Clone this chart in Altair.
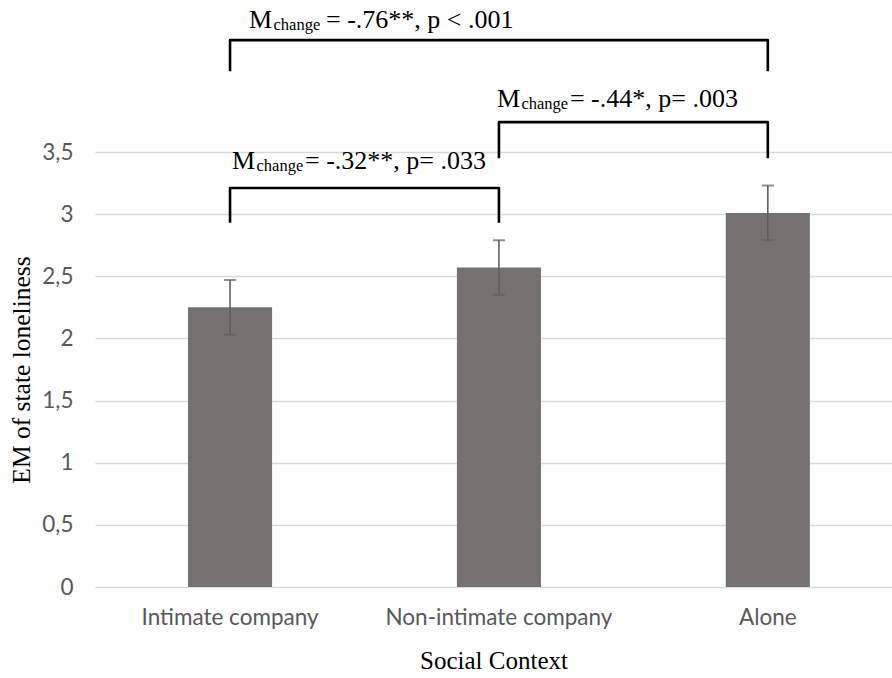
import altair as alt
import pandas as pd

# Estimated marginal means of state loneliness by social context
contexts = ["Intimate company", "Non-intimate company", "Alone"]
means = [2.25, 2.57, 3.01]
ci_low = [2.03, 2.35, 2.79]
ci_high = [2.47, 2.79, 3.23]

# Pairwise comparison brackets
pair_from = ["Intimate company", "Non-intimate company", "Intimate company"]
pair_to = ["Non-intimate company", "Alone", "Alone"]
bracket_top = [3.21, 3.74, 4.40]
bracket_leg = [2.93, 3.45, 4.15]
label_y = [3.36, 3.86, 4.50]
label_stat = ["= -.32**, p= .033", "= -.44*, p= .003", "= -.76**, p < .001"]

SERIF = "Liberation Serif"
SANS = "Lato"

bars_df = pd.DataFrame({"context": contexts, "mean": means, "lo": ci_low, "hi": ci_high})

rows = []
for i, (a, b, top, leg) in enumerate(zip(pair_from, pair_to, bracket_top, bracket_leg)):
    rows += [
        {"pair": i, "seq": 0, "context": a, "y": leg},
        {"pair": i, "seq": 1, "context": a, "y": top},
        {"pair": i, "seq": 2, "context": b, "y": top},
        {"pair": i, "seq": 3, "context": b, "y": leg},
    ]
brackets_df = pd.DataFrame(rows)

x_scale = alt.Scale(domain=contexts, paddingInner=0.6874, paddingOuter=0.3257, align=0.531)
y_scale = alt.Scale(domain=[0, 3.5], nice=False, zero=True)

x_enc = alt.X(
    "context:N",
    scale=x_scale,
    sort=contexts,
    axis=alt.Axis(
        title="Social Context",
        labelAngle=0,
        labelLimit=500,
        domain=False,
        ticks=False,
        labelFont=SANS,
        labelFontSize=22.5,
        labelColor="#595959",
        labelPadding=19,
        titleFont=SERIF,
        titleFontSize=25,
        titleFontWeight="normal",
        titleColor="#000000",
        titleBaseline="alphabetic",
        titleY=81,
    ),
)

y_enc = alt.Y(
    "mean:Q",
    scale=y_scale,
    axis=alt.Axis(
        title="EM of state loneliness",
        values=[0, 0.5, 1, 1.5, 2, 2.5, 3, 3.5],
        labelExpr="replace(toString(datum.value), '.', ',')",
        domain=False,
        ticks=False,
        grid=True,
        gridColor="#D9D9D9",
        gridWidth=1.3,
        labelFont=SANS,
        labelFontSize=22.5,
        labelColor="#595959",
        labelPadding=22,
        titleFont=SERIF,
        titleFontSize=25.5,
        titleFontWeight="normal",
        titleColor="#000000",
        titleAngle=-90,
        titleAlign="center",
        titleBaseline="alphabetic",
        titleX=-66,
        titleY=217.5,
    ),
)

bars = alt.Chart(bars_df).mark_bar(color="#767171").encode(x=x_enc, y=y_enc)

err_line = alt.Chart(bars_df).mark_rule(color="#5F5F5F", strokeWidth=1.6).encode(
    x=alt.X("context:N", scale=x_scale, sort=contexts),
    y=alt.Y("lo:Q", scale=y_scale),
    y2="hi:Q",
)
err_lo = alt.Chart(bars_df).mark_tick(color="#5F5F5F", size=12, thickness=2).encode(
    x=alt.X("context:N", scale=x_scale, sort=contexts),
    y=alt.Y("lo:Q", scale=y_scale),
)
err_hi = alt.Chart(bars_df).mark_tick(color="#5F5F5F", size=12, thickness=2).encode(
    x=alt.X("context:N", scale=x_scale, sort=contexts),
    y=alt.Y("hi:Q", scale=y_scale),
)

brackets = alt.Chart(brackets_df).mark_line(
    color="#000000", strokeWidth=2.6, strokeJoin="round", strokeCap="butt"
).encode(
    x=alt.X("context:N", scale=x_scale, sort=contexts),
    y=alt.Y("y:Q", scale=y_scale),
    detail="pair:N",
    order="seq:Q",
)

# Annotation text: "M" + subscript "change" + statistic, anchored at the bracket's left end
label_dx = [2, -2, 19]
rest_dx = [73, 73, 77]
labels = []
for i in range(len(pair_from)):
    one = pd.DataFrame({"context": [pair_from[i]], "y": [label_y[i]], "stat": [label_stat[i]]})
    base = alt.Chart(one).encode(
        x=alt.X("context:N", scale=x_scale, sort=contexts),
        y=alt.Y("y:Q", scale=y_scale),
    )
    labels.append(base.mark_text(
        text="M", font=SERIF, fontSize=26, align="left", baseline="alphabetic",
        dx=label_dx[i], color="#000000"))
    labels.append(base.mark_text(
        text="change", font=SERIF, fontSize=16.5, align="left", baseline="alphabetic",
        dx=label_dx[i] + 24.5, dy=2, color="#000000"))
    labels.append(base.mark_text(
        font=SERIF, fontSize=26, align="left", baseline="alphabetic",
        dx=label_dx[i] + rest_dx[i], color="#000000").encode(text="stat:N"))

chart = alt.layer(bars, err_line, err_lo, err_hi, brackets, *labels).properties(
    width=797,
    height=435,
    padding={"left": 95, "top": 152, "right": 0, "bottom": 91},
    autosize=alt.AutoSizeParams(type="none"),
    background="#FFFFFF",
).configure_view(stroke=None)

chart.save("out.html", embed_options={"renderer": "svg", "actions": False})
